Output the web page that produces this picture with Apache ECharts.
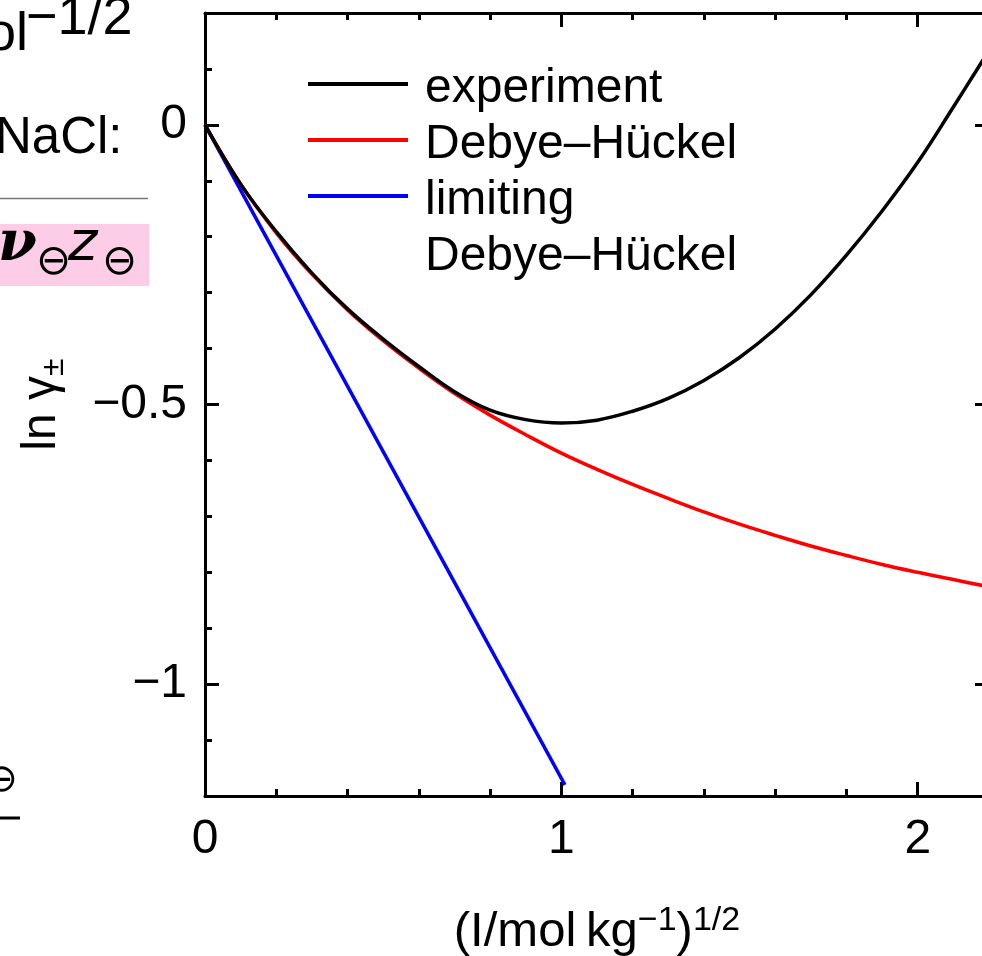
<!DOCTYPE html>
<html>
<head>
<meta charset="utf-8">
<title>ln γ± – NaCl</title>
<script src="https://cdn.jsdelivr.net/npm/echarts@6/dist/echarts.min.js"></script>
<style>
  html, body { margin: 0; padding: 0; background: #fff; }
  #chart { width: 982px; height: 956px; }
</style>
</head>
<body>
<div id="chart"></div>
<script>
// x = (I / mol kg^-1)^(1/2)
var sqrtI = [0, 0.1, 0.2, 0.3, 0.4, 0.5, 0.6, 0.7, 0.8, 0.9, 1.0, 1.1,
  1.2, 1.3, 1.4, 1.5, 1.6, 1.7, 1.8, 1.9, 2.0, 2.1, 2.2];
var lnGammaExp = [0, -0.106, -0.191, -0.265, -0.329, -0.383, -0.432, -0.477, -0.510, -0.527, -0.533, -0.528,
  -0.512, -0.489, -0.457, -0.416, -0.365, -0.304, -0.233, -0.154, -0.067, 0.032, 0.133];
var lnGammaDH = [0, -0.106, -0.193, -0.267, -0.331, -0.386, -0.435, -0.480, -0.519, -0.554, -0.587, -0.616,
  -0.643, -0.668, -0.692, -0.714, -0.734, -0.753, -0.770, -0.786, -0.800, -0.813, -0.826];
// limiting law is a straight line
var limitingX = [0, 1.01];
var limitingY = [0, -1.18];

var xMajorTicks = [0, 1, 2];
var yMajorTicks = [-1, -0.5, 0];
var seriesNames = ['experiment', 'Debye–Hückel', 'limiting Debye–Hückel'];

var FONT = 'Liberation Sans';

function pairs(xs, ys) {
  return xs.map(function (x, i) { return [x, ys[i]]; });
}

function minus(v) {
  return v < 0 ? '\u2212' + Math.abs(v) : String(v);
}

// frame axes: one with long ticks (+labels), one with short minor ticks
function axis(pos, min, max, opts) {
  var a = {
    type: 'value',
    position: pos,
    min: min,
    max: max,
    splitLine: { show: false },
    axisLine: { show: !!opts.line, onZero: false, lineStyle: { color: '#000', width: 3 } },
    axisTick: { show: true, inside: true, length: opts.tick, lineStyle: { color: '#000', width: 3 } },
    axisLabel: { show: false }
  };
  if (opts.interval) a.interval = opts.interval;
  if (opts.values) a.axisTick.customValues = opts.values;
  if (opts.labels) {
    a.axisLabel = {
      show: true,
      customValues: opts.values,
      margin: opts.margin,
      fontSize: 48,
      fontFamily: FONT,
      color: '#000',
      formatter: minus
    };
  }
  return a;
}

var chart = echarts.init(document.getElementById('chart'));

var xBottom = axis('bottom', 0, 2.2, { line: true, tick: 14, values: xMajorTicks, labels: true, margin: 20 });
xBottom.name = '{a|(I/mol\u2009kg}{s|\u22121}{a|)}{t|1/2}';
xBottom.nameLocation = 'middle';
xBottom.nameGap = 108;
xBottom.nameTextStyle = {
  color: '#000',
  rich: {
    a: { fontSize: 49, fontFamily: FONT, color: '#000', lineHeight: 56 },
    s: { fontSize: 34, fontFamily: FONT, color: '#000', lineHeight: 26, verticalAlign: 'top' },
    t: { fontSize: 34, fontFamily: FONT, color: '#000', lineHeight: 12, verticalAlign: 'top' }
  }
};

var yLeft = axis('left', -1.2, 0.2, { line: true, tick: 14, values: yMajorTicks, labels: true, margin: 18 });
yLeft.name = '{a|ln γ}{b|±}';
yLeft.nameLocation = 'middle';
yLeft.nameRotate = 90;
yLeft.nameGap = 135;
yLeft.nameTextStyle = {
  color: '#000',
  rich: {
    a: { fontSize: 48, fontFamily: FONT, color: '#000', lineHeight: 56 },
    b: { fontSize: 32, fontFamily: FONT, color: '#000', lineHeight: 10, verticalAlign: 'bottom' }
  }
};

// legend sample: 4px bar at the top of a 14px box, so the bar sits a bit above the text middle
var legendBar = 'path://M0 0L100 0L100 4L0 4Z M0 14L0.01 14';

var option = {
  animation: false,
  backgroundColor: '#fff',
  grid: { left: 205, top: 13, width: 784, height: 783, outerBoundsMode: 'none', containLabel: false },
  legend: {
    orient: 'vertical',
    left: 308,
    top: 61,
    padding: 0,
    itemGap: 0,
    itemWidth: 100,
    itemHeight: 14,
    icon: legendBar,
    itemStyle: { borderWidth: 0 },
    data: seriesNames,
    formatter: function (name) {
      return name.indexOf('limiting') === 0 ? 'limiting' : name;
    },
    textStyle: { fontSize: 48, fontFamily: FONT, color: '#000', lineHeight: 56, padding: [0, 0, 0, 12] }
  },
  xAxis: [
    xBottom,
    axis('bottom', 0, 2.2, { tick: 7, interval: 0.2 }),
    axis('top', 0, 2.2, { line: true, tick: 14, values: xMajorTicks }),
    axis('top', 0, 2.2, { tick: 7, interval: 0.2 })
  ],
  yAxis: [
    yLeft,
    axis('left', -1.2, 0.2, { tick: 7, interval: 0.1 }),
    axis('right', -1.2, 0.2, { line: true, tick: 14, values: yMajorTicks }),
    axis('right', -1.2, 0.2, { tick: 7, interval: 0.1 })
  ],
  series: [
    {
      name: seriesNames[0], type: 'line', xAxisIndex: 0, yAxisIndex: 0, z: 4,
      data: pairs(sqrtI, lnGammaExp), showSymbol: false, smooth: 0.4,
      color: '#000', lineStyle: { color: '#000', width: 3.5 }
    },
    {
      name: seriesNames[1], type: 'line', xAxisIndex: 0, yAxisIndex: 0, z: 3,
      data: pairs(sqrtI, lnGammaDH), showSymbol: false, smooth: 0.4,
      color: '#ff0000', lineStyle: { color: '#ff0000', width: 3.5 }
    },
    {
      name: seriesNames[2], type: 'line', xAxisIndex: 0, yAxisIndex: 0, z: 2,
      data: pairs(limitingX, limitingY), showSymbol: false,
      color: '#0000ff', lineStyle: { color: '#0000ff', width: 3.5 }
    }
  ],
  // second line of the last legend entry + cut-off pieces of the neighbouring slide
  graphic: [
    { type: 'text', x: 425, y: 257, style: { text: 'Debye–Hückel', font: '48px "' + FONT + '"', fill: '#000', verticalAlign: 'middle' } },
    { type: 'text', x: -14, y: 35, style: { text: 'ol', font: '54px "' + FONT + '"', fill: '#000', verticalAlign: 'middle' } },
    { type: 'text', x: 26, y: 19, style: { text: '\u22121/2', font: '54px "' + FONT + '"', fill: '#000', verticalAlign: 'middle' } },
    { type: 'text', x: -5, y: 139, style: { text: 'NaCl:', font: '51px "' + FONT + '"', fill: '#000', verticalAlign: 'middle' } },
    { type: 'line', shape: { x1: 0, y1: 198.5, x2: 148, y2: 198.5 }, style: { stroke: '#777', lineWidth: 1.5 } },
    { type: 'rect', shape: { x: 0, y: 224, width: 149, height: 62 }, style: { fill: '#fdcce6' } },
    { type: 'text', x: -2, y: 245, style: { text: 'ν', font: 'italic bold 56px "DejaVu Serif"', fill: '#000', verticalAlign: 'middle' } },
    { type: 'text', x: 36, y: 263, style: { text: '\u2296', font: '42px "DejaVu Sans"', fill: '#000', verticalAlign: 'middle' } },
    { type: 'text', x: 68, y: 245, style: { text: 'z', font: 'italic 56px "DejaVu Sans"', fill: '#000', verticalAlign: 'middle' } },
    { type: 'text', x: 102, y: 263, style: { text: '\u2296', font: '42px "DejaVu Sans"', fill: '#000', verticalAlign: 'middle' } },
    { type: 'text', x: -14, y: 781, style: { text: '\u2296', font: '38px "DejaVu Sans"', fill: '#000', verticalAlign: 'middle' } },
    { type: 'line', shape: { x1: 0, y1: 818, x2: 20, y2: 818 }, style: { stroke: '#000', lineWidth: 3 } }
  ]
};

chart.setOption(option);
</script>
</body>
</html>
